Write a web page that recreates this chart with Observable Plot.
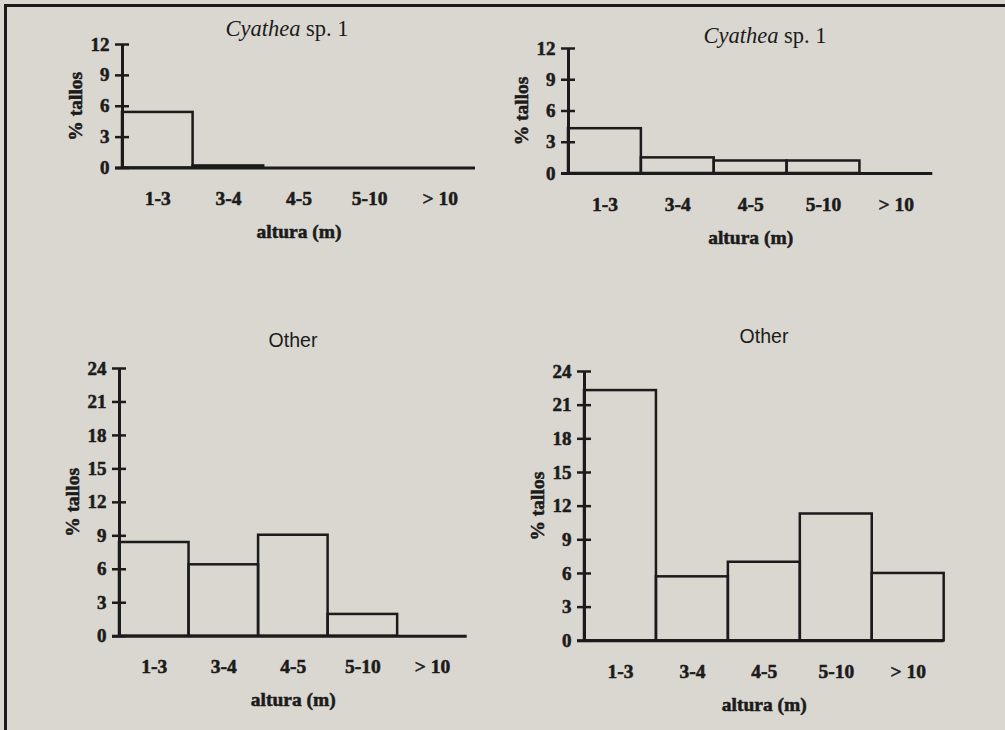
<!DOCTYPE html>
<html><head><meta charset="utf-8">
<script src="https://cdn.jsdelivr.net/npm/d3@7"></script>
<script src="https://cdn.jsdelivr.net/npm/@observablehq/plot@0.6"></script>
<style>
html,body{margin:0;padding:0;background:#dad7d1;}
#root{position:relative;width:1005px;height:730px;overflow:hidden;background:#dad7d1;}
#border{position:absolute;left:4px;top:4px;width:1010px;height:740px;border-top:3px solid #1b1b1b;border-left:3px solid #1b1b1b;}
.title{position:absolute;transform:translateX(-50%);white-space:nowrap;line-height:1;color:#1b1b1b;}
.serif{font-family:"Liberation Serif","Times New Roman",serif;font-size:22.5px;}
.sans{font-family:"Liberation Sans",Arial,sans-serif;font-size:19.5px;}
svg{position:absolute;}
</style></head><body><div id="root"><div id="border"></div></div>
<script>
// Data
const categories = ["1-3", "3-4", "4-5", "5-10", "> 10"];
const cyatheaA = [5.4, 0.2, 0, 0, 0];
const cyatheaB = [4.3, 1.5, 1.2, 1.2, 0];
const otherA = [8.4, 6.4, 9.05, 1.95, 0];
const otherB = [22.3, 5.7, 7.0, 11.3, 6.0];
const ticks12 = [0, 3, 6, 9, 12];
const ticks24 = [0, 3, 6, 9, 12, 15, 18, 21, 24];
const yLabel = "% tallos";
const xLabel = "altura (m)";

const ink = "#1b1b1b";
const root = document.getElementById("root");

function panel(values, yTicks, L, T, R, B) {
  const mL = 80, mT = 20, mR = 20, mB = 80;
  const data = values.map((v, i) => ({cat: categories[i], i, v}));
  const heavy = {fill: ink, stroke: ink, strokeWidth: 0.55, fontWeight: "bold"};
  const svg = Plot.plot({
    width: (R - L) + mL + mR,
    height: (B - T) + mT + mB,
    marginLeft: mL, marginTop: mT, marginRight: mR, marginBottom: mB,
    x: {domain: [0, categories.length], axis: null},
    y: {domain: [0, yTicks[yTicks.length - 1]], axis: null},
    style: {background: "transparent", fontFamily: "'Liberation Serif', 'Times New Roman', serif", color: ink, overflow: "visible"},
    marks: [
      Plot.rectY(data, {x1: "i", x2: d => d.i + 1, y: "v", fill: "none", stroke: ink, strokeWidth: 2.5}),
      Plot.ruleY([0], {stroke: ink, strokeWidth: 3, insetLeft: -7}),
      Plot.ruleX([0], {stroke: ink, strokeWidth: 3}),
      Plot.axisY({ticks: yTicks, tickSize: 14, dx: 7, tickFormat: () => "", strokeWidth: 2.5, stroke: ink, label: null}),
      Plot.text(yTicks, {y: d => d, frameAnchor: "left", textAnchor: "end", lineAnchor: "middle", dx: -13, fontSize: 19, ...heavy}),
      Plot.text(data, {x: d => d.i + 0.5, text: "cat", frameAnchor: "bottom", textAnchor: "middle", lineAnchor: "middle", dy: 31, fontSize: 19.5, ...heavy}),
      Plot.text([yLabel], {frameAnchor: "left", textAnchor: "middle", lineAnchor: "middle", rotate: -90, dx: -47, fontSize: 19.5, ...heavy}),
      Plot.text([xLabel], {frameAnchor: "bottom", textAnchor: "middle", lineAnchor: "middle", dy: 64, fontSize: 19.5, ...heavy})
    ]
  });
  svg.style.left = (L - mL) + "px";
  svg.style.top = (T - mT) + "px";
  root.appendChild(svg);
}

function title(html, cls, cx, baseline, size, k) {
  const d = document.createElement("div");
  d.className = "title " + cls;
  d.innerHTML = html;
  d.style.left = cx + "px";
  d.style.top = (baseline - k * size) + "px";
  root.appendChild(d);
}

panel(cyatheaA, ticks12, 122, 43.5, 475, 167);
panel(cyatheaB, ticks12, 567.7, 48, 932, 173);
panel(otherA, ticks24, 119, 368.3, 466.7, 636);
panel(otherB, ticks24, 584.3, 370.7, 944, 640);

title("<i>Cyathea</i> sp. 1", "serif", 287, 37, 22.5, 0.8375);
title("<i>Cyathea</i> sp. 1", "serif", 765, 44, 22.5, 0.8375);
title("Other", "sans", 293, 348, 19.5, 0.8465);
title("Other", "sans", 764, 344, 19.5, 0.8465);
</script>
</body></html>
